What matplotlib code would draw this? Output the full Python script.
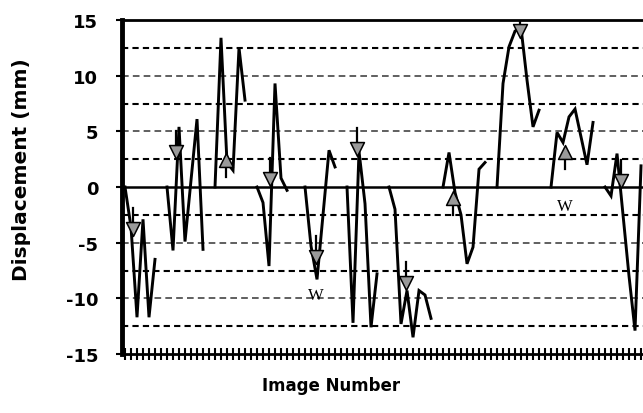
import matplotlib
matplotlib.use("Agg")
import matplotlib.pyplot as plt
import numpy as np

plt.rcParams["axes.unicode_minus"] = False

# each run of images: first image number and displacement values (mm)
seg_starts = [0, 7, 15, 22, 30, 37, 44, 53, 62, 71, 80]
seg_values = [
    [0, -3.6, -11.7, -2.9, -11.7, -6.5],
    [0, -5.7, 5.4, -4.9, 0.6, 6.1, -5.6],
    [0, 13.4, 2.2, 1.5, 12.5, 7.8],
    [0, -1.4, -7.1, 9.3, 0.8, -0.3],
    [0, -5.3, -8.3, -2.5, 3.3, 1.8],
    [0, -12.2, 3.2, -1.5, -12.6, -7.8],
    [0, -2.0, -12.3, -9.3, -13.5, -9.3, -9.7, -11.8],
    [0, 3.1, -0.5, -2.5, -6.9, -5.4, 1.6, 2.2],
    [0, 9.3, 12.6, 14.0, 14.3, 9.6, 5.4, 6.9],
    [0, 4.9, 4.0, 6.3, 7.0, 4.5, 2.0, 5.8],
    [0, -0.8, 3.0, -2.5, -8.0, -12.9, 1.9],
]

# event markers
down_x = [1.3, 8.5, 24.2, 31.8, 38.7, 46.8, 65.8, 82.7]
down_y = [-3.8, 3.1, 0.7, -6.3, 3.4, -8.6, 14.0, 0.5]
up_x = [16.8, 54.7, 73.3]
up_y = [2.4, -1.0, 3.1]
w_x = [31.8, 73.3]
w_y = [-9.7, -1.7]

grid_levels = [-12.5, -10, -7.5, -5, -2.5, 2.5, 5, 7.5, 10, 12.5, 15]

fig = plt.figure(figsize=(6.43, 4.14), dpi=100)
ax = fig.add_axes([122 / 643, 59 / 414, 1 - 122 / 643, 334 / 414])

for lv in grid_levels:
    if lv % 5 == 0:
        ax.axhline(lv, color="#444444", lw=1.2, linestyle=(0, (4, 2.5)), zorder=1)
    else:
        ax.axhline(lv, color="black", lw=1.5, linestyle=(0, (3, 2)), zorder=1)
ax.axhline(0, color="black", lw=1.8, zorder=2)

for st, vals in zip(seg_starts, seg_values):
    xs = st + np.arange(len(vals))
    ax.plot(xs, vals, color="black", lw=2.1, zorder=3, solid_joinstyle="miter")

# arrows above the down triangles, below the up triangles
for x, y in zip(down_x, down_y):
    ax.plot([x, x], [y, y + 1.9], color="black", lw=1.6, zorder=4)
for x, y in zip(up_x, up_y):
    ax.plot([x, x], [y, y - 1.5], color="black", lw=1.6, zorder=4)
ax.scatter(down_x, down_y, marker="v", s=100, facecolor="#9a9a9a",
           edgecolor="black", linewidth=1.1, zorder=5)
ax.scatter(up_x, up_y, marker="^", s=100, facecolor="#9a9a9a",
           edgecolor="black", linewidth=1.1, zorder=5)
for x, y in zip(w_x, w_y):
    ax.text(x, y, "W", ha="center", va="center", fontsize=12,
            family="Liberation Serif", zorder=5)

ax.set_xlim(-0.5, 86.33)
ax.set_ylim(-15, 15)
ax.set_yticks([-15, -10, -5, 0, 5, 10, 15])
ax.set_xticks(np.arange(0, 87, 1))
ax.tick_params(axis="x", direction="inout", length=8, width=1.5,
               labelbottom=False)
ax.tick_params(axis="y", direction="out", length=4, width=1.5, pad=13)
for lab in ax.get_yticklabels():
    lab.set_fontweight("bold")
    lab.set_fontsize(13)
    lab.set_family("DejaVu Sans")

ax.spines["right"].set_visible(False)
ax.spines["left"].set_linewidth(3.5)
ax.spines["bottom"].set_linewidth(2)
ax.spines["top"].set_linewidth(2)

fig.text(22 / 643, 1 - 170 / 414, "Displacement (mm)", fontsize=14.5,
         fontweight="bold", family="DejaVu Sans", rotation=90,
         ha="center", va="center")
fig.text(331 / 643, 1 - 386 / 414, "Image Number", fontsize=12,
         fontweight="bold", family="DejaVu Sans", ha="center", va="center")

fig.savefig("out.png", dpi=100)
